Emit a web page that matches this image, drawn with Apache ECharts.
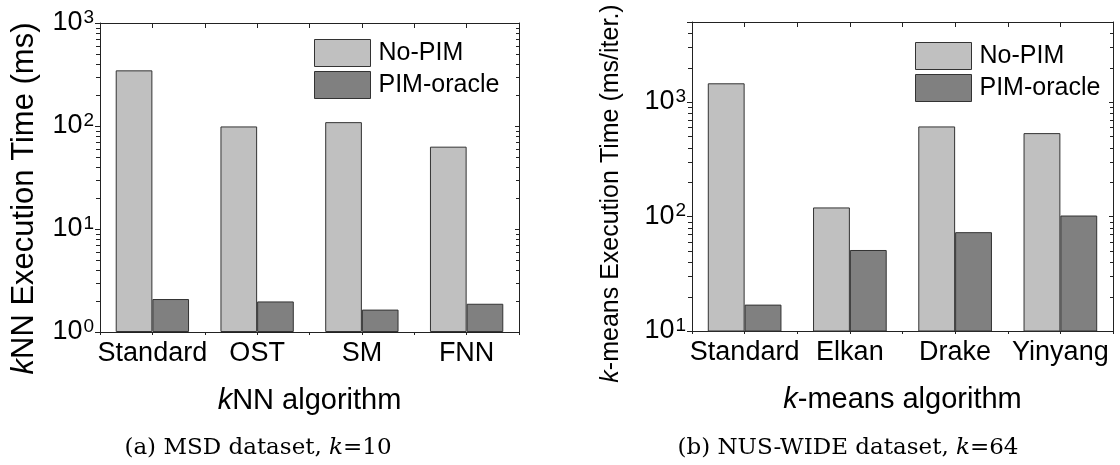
<!DOCTYPE html>
<html><head><meta charset="utf-8">
<script src="https://cdn.jsdelivr.net/npm/echarts@6/dist/echarts.min.js"></script>
<style>html,body{margin:0;padding:0;background:#fff}#c{width:1120px;height:465px}</style>
</head><body><div id="c"></div>
<script>
// ---- data ----
const knnCategories = ['Standard', 'OST', 'SM', 'FNN'];
const knnNoPIM = [347, 99, 109, 63];
const knnPIM = [2.09, 1.98, 1.65, 1.88];
const kmCategories = ['Standard', 'Elkan', 'Drake', 'Yinyang'];
const kmNoPIM = [1457, 120, 612, 535];
const kmPIM = [17, 51, 73, 102];
const seriesNames = ['No-PIM', 'PIM-oracle'];
const knnMinorTicks = [2, 3, 4, 5, 6, 7, 8, 9, 20, 30, 40, 50, 60, 70, 80, 90, 200, 300, 400, 500, 600, 700, 800, 900];
const kmMinorTicks = [20, 30, 40, 50, 60, 70, 80, 90, 200, 300, 400, 500, 600, 700, 800, 900, 2000, 3000, 4000];
const halfSlots = ['', '', '', '', '', '', '', ''];

// ---- styles ----
const SANS = 'Liberation Sans, Arial, Helvetica, sans-serif';
const SERIF = 'DejaVu Serif, serif';
const LINE = '#222';
const C_NO = '#c0c0c0';
const C_PIM = '#808080';

const chart = echarts.init(document.getElementById('c'), null, { renderer: 'canvas' });

const grids = [
  { left: 100, top: 23, width: 419, height: 309 },
  { left: 692, top: 22, width: 421, height: 309 }
];

function powLabel(v) {
  const l = Math.log10(v);
  const e = Math.round(l);
  if (Math.abs(l - e) > 1e-6) return '';
  return '{b|10}{s|' + e + '}';
}

const xAxes = [];
const yAxes = [];
const series = [];

function buildPanel(gi, cats, noPim, pim, yMin, yMax, minorTicks, xName, yName, yNameSize, yNameGap, yNamePad) {
  const xBase = xAxes.length;
  const yBase = yAxes.length;
  xAxes.push({
    type: 'category', gridIndex: gi, position: 'bottom', data: cats,
    axisLine: { show: true, lineStyle: { color: LINE, width: 1 } },
    axisTick: { show: false },
    axisLabel: { interval: 0, margin: 8, color: '#000', fontFamily: SANS, fontSize: 27 },
    name: xName, nameLocation: 'middle', nameGap: 54,
    nameTextStyle: { color: '#000', fontFamily: SANS, fontSize: 29,
      rich: { i: { fontStyle: 'italic', fontFamily: SANS, fontSize: 29, color: '#000' } } }
  });
  xAxes.push({
    type: 'category', gridIndex: gi, position: 'bottom', data: halfSlots,
    axisLine: { show: false },
    axisTick: { show: true, inside: false, length: 3, interval: 0, lineStyle: { color: LINE } },
    axisLabel: { show: false }
  });
  xAxes.push({
    type: 'category', gridIndex: gi, position: 'top', data: halfSlots,
    axisLine: { show: true, lineStyle: { color: LINE, width: 1 } },
    axisTick: { show: true, inside: true, length: 5, interval: 0, lineStyle: { color: LINE } },
    axisLabel: { show: false }
  });
  yAxes.push({
    type: 'log', gridIndex: gi, position: 'left', min: yMin, max: yMax, logBase: 10,
    axisLine: { show: true, lineStyle: { color: LINE, width: 1 } },
    axisTick: { show: true, inside: false, length: 5, lineStyle: { color: LINE } },
    splitLine: { show: false },
    axisLabel: {
      margin: 6, formatter: powLabel,
      rich: {
        b: { fontFamily: SANS, fontSize: 27, color: '#000', lineHeight: 30 },
        s: { fontFamily: SANS, fontSize: 19, color: '#000', verticalAlign: 'top', padding: [0, 0, 0, 1] }
      }
    },
    name: yName, nameLocation: 'middle', nameGap: yNameGap,
    nameTextStyle: { color: '#000', fontFamily: SANS, fontSize: yNameSize, padding: yNamePad,
      rich: { i: { fontStyle: 'italic', fontFamily: SANS, fontSize: yNameSize, color: '#000' } } }
  });
  yAxes.push({
    type: 'log', gridIndex: gi, position: 'right', min: yMin, max: yMax, logBase: 10,
    axisLine: { show: true, lineStyle: { color: LINE, width: 1 } },
    axisTick: { show: true, inside: true, length: 4, lineStyle: { color: LINE } },
    axisLabel: { show: false }, splitLine: { show: false }
  });

  const barStyle = (c) => ({ color: c, borderColor: '#333', borderWidth: 1 });
  series.push({
    type: 'bar', name: seriesNames[0], xAxisIndex: xBase, yAxisIndex: yBase, data: noPim,
    barGap: '0%', barCategoryGap: '30%', itemStyle: barStyle(C_NO), silent: true
  });
  series.push({
    type: 'bar', name: seriesNames[1], xAxisIndex: xBase, yAxisIndex: yBase, data: pim,
    barGap: '0%', barCategoryGap: '30%', itemStyle: barStyle(C_PIM), silent: true
  });
  const nCat = cats.length;
  series.push({
    type: 'custom', name: 'minor' + gi, xAxisIndex: xBase, yAxisIndex: yBase, silent: true, z: 5,
    clip: false,
    data: minorTicks.map(v => [0, v]),
    encode: { x: 0, y: 1 },
    renderItem: function (params, api) {
      const p = api.coord([0, api.value(1)]);
      const bw = api.size([1, 0])[0];
      const xl = p[0] - bw / 2;
      const xr = xl + bw * nCat;
      const y = Math.round(p[1]) + 0.5;
      return {
        type: 'group', children: [
          { type: 'line', shape: { x1: xl - 4, y1: y, x2: xl, y2: y }, style: { stroke: LINE, lineWidth: 1 } },
          { type: 'line', shape: { x1: xr - 3, y1: y, x2: xr, y2: y }, style: { stroke: LINE, lineWidth: 1 } }
        ]
      };
    }
  });
}

buildPanel(0, knnCategories, knnNoPIM, knnPIM, 1, 1000, knnMinorTicks,
  '{i|k}NN algorithm', '{i|k}NN Execution Time (ms)', 31, 60, [0, 42, 0, 0]);
buildPanel(1, kmCategories, kmNoPIM, kmPIM, 10, 5000, kmMinorTicks,
  '{i|k}-means algorithm', '{i|k}-means Execution Time (ms/iter.)', 25, 68, [0, 34, 0, 0]);

const legendBase = {
  orient: 'vertical', padding: 0, itemGap: 4, itemWidth: 56, itemHeight: 27,
  icon: 'rect',
  data: seriesNames, selectedMode: false,
  itemStyle: { borderColor: '#333', borderWidth: 1 },
  textStyle: { color: '#000', fontFamily: SANS, fontSize: 25, lineHeight: 27, padding: [0, 0, 0, 3] }
};

const captionStyle = {
  color: '#000', fontFamily: SERIF, fontSize: 23, fontWeight: 'normal',
  rich: { i: { fontStyle: 'italic', fontFamily: SERIF, fontSize: 23, color: '#000' } }
};

chart.setOption({
  animation: false,
  backgroundColor: '#fff',
  grid: grids,
  xAxis: xAxes,
  yAxis: yAxes,
  legend: [
    Object.assign({ left: 314, top: 39 }, legendBase),
    Object.assign({ left: 915, top: 42 }, legendBase)
  ],
  title: [
    { text: '(a) MSD dataset, {i|k}=10', left: 258, top: 437, textAlign: 'center', padding: 0, textStyle: captionStyle },
    { text: '(b) NUS-WIDE dataset, {i|k}=64', left: 848, top: 437, textAlign: 'center', padding: 0, textStyle: captionStyle }
  ],
  series: series
});
</script>
</body></html>
